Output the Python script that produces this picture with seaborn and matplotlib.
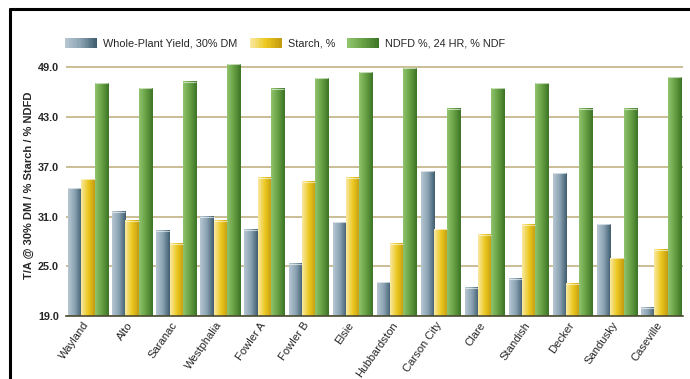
import numpy as np
import pandas as pd
import matplotlib
matplotlib.use("Agg")
import matplotlib.pyplot as plt
import matplotlib.transforms as mtrans
import seaborn as sns
from matplotlib.colors import LinearSegmentedColormap
from matplotlib.legend_handler import HandlerBase
from matplotlib.patches import Rectangle
from matplotlib.lines import Line2D

sites = ["Wayland", "Alto", "Saranac", "Westphalia", "Fowler A", "Fowler B", "Elsie",
         "Hubbardston", "Carson City", "Clare", "Standish", "Decker", "Sandusky", "Caseville"]
yield_30dm = [34.4, 31.6, 29.3, 31.0, 29.4, 25.3, 30.3, 23.1, 36.5, 22.4, 23.5, 36.2, 30.1, 20.0]
starch_pct = [35.5, 30.5, 27.7, 30.5, 35.7, 35.2, 35.7, 27.7, 29.5, 28.8, 30.0, 22.9, 26.0, 27.0]
ndfd_pct = [47.1, 46.5, 47.3, 49.4, 46.4, 47.7, 48.4, 48.9, 44.0, 46.5, 47.1, 44.0, 44.0, 47.8]
series_names = ["Whole-Plant Yield, 30% DM", "Starch, %", "NDFD %, 24 HR, % NDF"]
y_ticks = [19.0, 25.0, 31.0, 37.0, 43.0, 49.0]
y_label = "T/A @ 30% DM / % Starch / % NDFD"

grad_colors = [
    ["#b7c7d2", "#8aa2b2", "#3f5d6e"],
    ["#f9e9a3", "#ecc820", "#c49c10"],
    ["#90c46e", "#67a044", "#3c7426"],
]
mid_colors = [c[1] for c in grad_colors]
cmaps = [LinearSegmentedColormap.from_list(f"g{i}", c) for i, c in enumerate(grad_colors)]

df = pd.DataFrame({
    "site": sites * 3,
    "value": yield_30dm + starch_pct + ndfd_pct,
    "series": [series_names[0]] * len(sites) + [series_names[1]] * len(sites) + [series_names[2]] * len(sites),
})

sns.set_style("white")
plt.rcParams["font.family"] = ["Liberation Sans", "DejaVu Sans"]

fig = plt.figure(figsize=(6.9, 3.79), dpi=100)
ax = fig.add_axes([66 / 690, 1 - 316 / 379, 617 / 690, (316 - 55) / 379])

sns.barplot(data=df, x="site", y="value", hue="series", hue_order=series_names,
            palette=mid_colors, width=0.9, gap=0, linewidth=0, ax=ax, legend=False,
            zorder=3)

ax.set_ylim(19, 50.5)
xlim = ax.get_xlim()
ylim = ax.get_ylim()

grad = np.linspace(0, 1, 64).reshape(1, -1)
for i, cont in enumerate(ax.containers):
    for p in cont:
        x0, y0 = p.get_x(), p.get_y()
        w, h = p.get_width(), p.get_height()
        ybot = max(y0, ylim[0])
        ax.imshow(grad, extent=[x0, x0 + w, ybot, y0 + h], aspect="auto",
                  cmap=cmaps[i], zorder=4, interpolation="bilinear")
        ax.plot([x0, x0 + w], [y0 + h, y0 + h], color="white", lw=0.8, alpha=0.6,
                zorder=5, solid_capstyle="butt")
ax.set_xlim(xlim)
ax.set_ylim(ylim)

ax.set_yticks(y_ticks)
ax.set_yticklabels([f"{v:.1f}" for v in y_ticks], fontsize=7.8, fontweight="bold")
ax.yaxis.grid(True, color="#c6b98c", lw=1.3, zorder=0)
ax.set_axisbelow(True)
ax.tick_params(axis="y", length=3, width=1, color="#a89a6a", pad=2)
ax.tick_params(axis="x", length=0, pad=3)
ax.set_xticks(range(len(sites)))
ax.set_xticklabels(sites, rotation=55, ha="right", rotation_mode="anchor", fontsize=8.1)
shift = mtrans.ScaledTranslation(-5 / 100, 0, fig.dpi_scale_trans)
for lbl in ax.get_xticklabels():
    lbl.set_transform(lbl.get_transform() + shift)
ax.set_xlabel("")
ax.set_ylabel(y_label, fontsize=8, fontweight="bold", labelpad=3)
for s in ["left", "top", "right"]:
    ax.spines[s].set_visible(False)
ax.spines["bottom"].set_color("#4a4a30")
ax.spines["bottom"].set_linewidth(1.2)
ax.spines["bottom"].set_zorder(6)


class GradHandler(HandlerBase):
    def __init__(self, cmap):
        super().__init__()
        self.cmap = cmap

    def create_artists(self, legend, orig_handle, xdescent, ydescent, width, height,
                       fontsize, trans):
        n = 24
        arts = []
        for k in range(n):
            r = Rectangle((-xdescent + width * k / n, -ydescent), width / n * 1.05, height,
                          facecolor=self.cmap(k / (n - 1)), edgecolor="none", transform=trans)
            arts.append(r)
        return arts


handles = [Rectangle((0, 0), 1, 1) for _ in series_names]
leg = fig.legend(handles, series_names, loc="center left",
                 bbox_to_anchor=(65 / 690, 1 - 43 / 379), ncol=3, frameon=False,
                 fontsize=7.8, handlelength=2.95, handleheight=1.1, handletextpad=0.55,
                 columnspacing=1.15, borderpad=0, borderaxespad=0,
                 handler_map={h: GradHandler(cm) for h, cm in zip(handles, cmaps)})

# frame lines (left and top border)
fig.add_artist(Line2D([10 / 690, 10 / 690], [0, 1 - 9 / 379], color="black", lw=2.2,
                      transform=fig.transFigure))
fig.add_artist(Line2D([10 / 690, 1], [1 - 9 / 379, 1 - 9 / 379], color="black", lw=2.2,
                      transform=fig.transFigure))

fig.savefig("out.png", dpi=100)
